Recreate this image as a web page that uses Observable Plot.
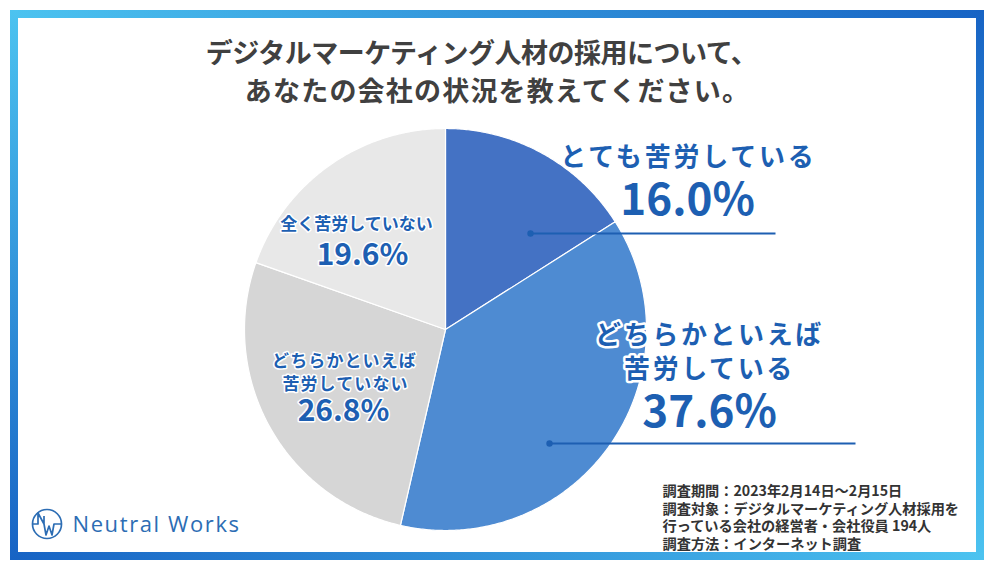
<!DOCTYPE html>
<html><head><meta charset="utf-8">
<script src="https://cdn.jsdelivr.net/npm/d3@7"></script>
<script src="https://cdn.jsdelivr.net/npm/@observablehq/plot@0.6"></script>
<style>
html,body{margin:0;padding:0;background:#fff;}
#wrap{position:relative;width:994px;height:564px;overflow:hidden;background:#fff;}
#chart{position:absolute;left:0;top:0;}
.bar{position:absolute;}
#deco{position:absolute;left:0;top:0;}
</style>
</head><body>
<div id="wrap">
  <div id="chart"></div>
  <div class="bar" style="left:10px;top:10px;width:974px;height:8px;background:linear-gradient(90deg,#4cc3f0,#1763c4);"></div>
  <div class="bar" style="left:976px;top:10px;width:8px;height:550px;background:linear-gradient(180deg,#1763c4,#4cc3f0);"></div>
  <div class="bar" style="left:10px;top:552px;width:974px;height:8px;background:linear-gradient(90deg,#1763c4,#4cc3f0);"></div>
  <div class="bar" style="left:10px;top:10px;width:8px;height:550px;background:linear-gradient(180deg,#4cc3f0,#1763c4);"></div>
  <svg id="deco" width="994" height="564">
    <circle cx="47" cy="524" r="14.5" fill="none" stroke="#2c6db4" stroke-width="1.7"/>
    <path d="M33,524 L38,524 L38,513 L44,524 L44,516 M44,524 L46,535 L49,526 L52,535 L54,524 L61,524" fill="none" stroke="#2c6db4" stroke-width="1.7" stroke-linejoin="round"/>
  </svg>
</div>
<script>
// ---- data ----
const categories = ["とても苦労している", "どちらかといえば苦労している", "どちらかといえば苦労していない", "全く苦労していない"];
const values = [16.0, 37.6, 26.8, 19.6];
const labelLines = [["とても苦労している"], ["どちらかといえば", "苦労している"], ["どちらかといえば", "苦労していない"], ["全く苦労していない"]];
const sliceColors = ["#4472c4", "#4e8bd2", "#d6d6d6", "#e8e8e8"];
const titleLines = ["デジタルマーケティング人材の採用について、", "あなたの会社の状況を教えてください。"];
const noteLines = ["調査期間：2023年2月14日～2月15日", "調査対象：デジタルマーケティング人材採用を", "行っている会社の経営者・会社役員 194人", "調査方法：インターネット調査"];
const brand = "Neutral Works";

// ---- layout (pixels) ----
const CX = 445, CY = 329, R = 201;
const px = x => (x - CX) / R;
const py = y => (CY - y) / R;
const blue = "#1d5fb2";

// pie geometry from the values
const arcs = d3.pie().sort(null).value(d => d)(values);
const pieRows = [];
arcs.forEach((a, i) => {
  const key = categories[i];
  pieRows.push({key, x: 0, y: 0});
  const n = Math.max(2, Math.ceil((a.endAngle - a.startAngle) / (Math.PI / 360)));
  for (let k = 0; k <= n; k++) {
    const t = a.startAngle + (a.endAngle - a.startAngle) * k / n;
    pieRows.push({key, x: Math.sin(t), y: Math.cos(t)});
  }
  pieRows.push({key, x: 0, y: 0});
});

const fmt = v => v.toFixed(1) + "%";

// label layout
const bigLab1 = [{t: labelLines[0][0], x: 688, y: 157}];
const bigLab2 = [
  {t: labelLines[1][0], x: 709, y: 335},
  {t: labelLines[1][1], x: 709, y: 369}
];
const bigPct = [
  {t: fmt(values[0]), x: 687, y: 200},
  {t: fmt(values[1]), x: 709, y: 412}
];
const smallLab1 = [{t: labelLines[3][0], x: 356, y: 224}];
const smallLab2 = [
  {t: labelLines[2][0], x: 344, y: 361},
  {t: labelLines[2][1], x: 345, y: 384}
];
const smallPct = [
  {t: fmt(values[3]), x: 362, y: 255},
  {t: fmt(values[2]), x: 343, y: 411}
];
const leaders = [
  {x1: 530, y1: 233, x2: 775, y2: 233},
  {x1: 549, y1: 443, x2: 855, y2: 443}
];
const notes = noteLines.map((t, i) => ({t, x: 662, y: 491 + i * 17.6}));

const P = rows => rows.map(d => ({...d, x: px(d.x), y: py(d.y)}));
const L = rows => rows.map(d => ({x1: px(d.x1), y1: py(d.y1), x2: px(d.x2), y2: py(d.y2)}));

const halo = w => ({stroke: "white", strokeWidth: w, paintOrder: "stroke", strokeLinejoin: "round"});

// text marks in order, with their letter-spacing
const textMarks = [
  [Plot.text(P([{t: titleLines[0], x: 481, y: 54}]), {x: "x", y: "y", text: "t", fontSize: 27, fontWeight: 700, fill: "#404040"}), "-0.5px"],
  [Plot.text(P([{t: titleLines[1], x: 497, y: 92}]), {x: "x", y: "y", text: "t", fontSize: 27, fontWeight: 700, fill: "#404040"}), "1.2px"],
  [Plot.text(P(bigLab1), {x: "x", y: "y", text: "t", fontSize: 26, fontWeight: 700, fill: blue, ...halo(5)}), "2.8px"],
  [Plot.text(P(bigLab2), {x: "x", y: "y", text: "t", fontSize: 26, fontWeight: 700, fill: blue, ...halo(5)}), "2.6px"],
  [Plot.text(P(bigPct), {x: "x", y: "y", text: "t", fontSize: 44, fontWeight: 700, fill: blue, ...halo(5)}), "0px"],
  [Plot.text(P(smallLab1), {x: "x", y: "y", text: "t", fontSize: 17, fontWeight: 700, fill: blue, ...halo(3)}), "0px"],
  [Plot.text(P(smallLab2), {x: "x", y: "y", text: "t", fontSize: 17, fontWeight: 700, fill: blue, ...halo(3)}), "1.1px"],
  [Plot.text(P(smallPct), {x: "x", y: "y", text: "t", fontSize: 30, fontWeight: 700, fill: blue, ...halo(3)}), "0px"],
  [Plot.text(P(notes), {x: "x", y: "y", text: "t", fontSize: 14.2, fontWeight: 600, fill: "#333", textAnchor: "start"}), "0px"],
  [Plot.text(P([{t: brand, x: 72, y: 524}]), {x: "x", y: "y", text: "t", fontSize: 22, fontWeight: 500, fill: "#2c6db4", textAnchor: "start", fontFamily: "'Open Sans', sans-serif"}), "1.6px"]
];

const chart = Plot.plot({
  width: 994,
  height: 564,
  x: {domain: [-1, 1], range: [CX - R, CX + R], axis: null},
  y: {domain: [-1, 1], range: [CY + R, CY - R], axis: null},
  color: {domain: categories, range: sliceColors},
  style: {fontFamily: "'Noto Sans CJK JP', 'Noto Sans', sans-serif", background: "transparent"},
  marks: [
    Plot.line(pieRows, {x: "x", y: "y", z: "key", fill: "key", stroke: "white", strokeWidth: 1.2, strokeLinejoin: "round", curve: "linear"}),
    Plot.link(L(leaders), {x1: "x1", y1: "y1", x2: "x2", y2: "y2", stroke: blue, strokeWidth: 2}),
    Plot.dot(P(leaders.map(d => ({x: d.x1, y: d.y1}))), {x: "x", y: "y", r: 3.2, fill: blue, stroke: "none"}),
    ...textMarks.map(d => d[0])
  ]
});
const groups = chart.querySelectorAll('g[aria-label="text"]');
groups.forEach((g, i) => { if (textMarks[i]) g.setAttribute("letter-spacing", textMarks[i][1]); });
document.getElementById("chart").appendChild(chart);
</script>
</body></html>
